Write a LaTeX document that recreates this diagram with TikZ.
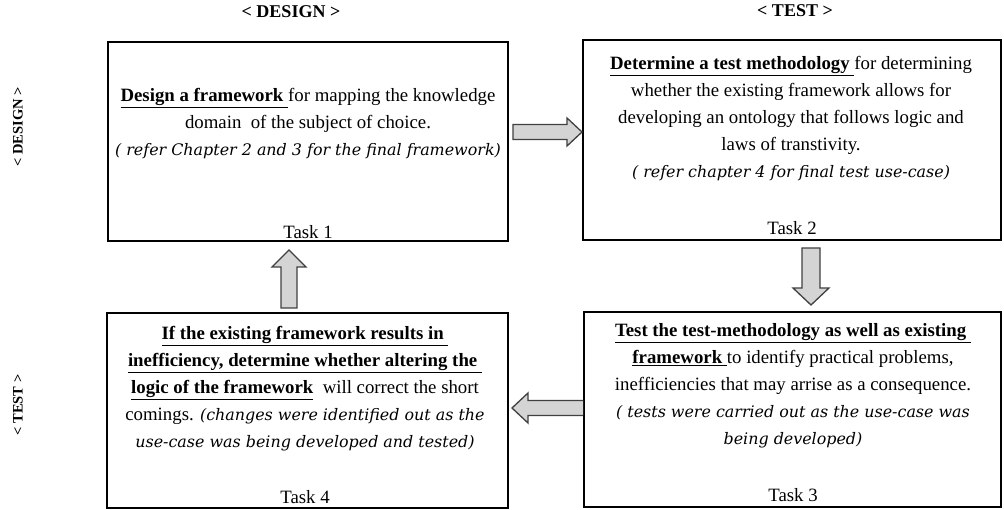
\documentclass[tikz,border=0pt]{standalone}
\usepackage{fontspec}
\setmainfont{Liberation Serif}
\newfontfamily\itfam{DejaVu Serif}
\newcommand\bu[1]{\underline{\textbf{#1}}}
\newcommand\itx[1]{{\itfam\itshape\fontsize{15.9}{27}\selectfont #1}}
\begin{document}
\begin{tikzpicture}[x=1pt,y=-1pt,
  box/.style={draw, line width=2pt, inner sep=0pt},
  txt/.style={align=center, font=\fontsize{18.8}{27}\selectfont, inner sep=0pt},
  tasklbl/.style={font=\fontsize{18.8}{22}\selectfont, inner sep=0pt},
  hdr/.style={font=\fontsize{18}{20}\selectfont\bfseries, inner sep=0pt},
  vhdr/.style={font=\fontsize{14.5}{17}\selectfont\bfseries, inner sep=0pt},
  barrow/.style={draw=black!75, fill=black!17, line width=1.3pt, line join=miter}]
\useasboundingbox (0,0) rectangle (1004,510);

% headers
\node[hdr] (hd) at (291,12) {< DESIGN >};
\node[hdr] (ht) at (795,11) {< TEST >};
\node[vhdr, rotate=90] (vd) at (18,127) {< DESIGN >};
\node[vhdr, rotate=90] (vt) at (18,405) {< TEST >};

% boxes
\node[box, minimum width=400pt, minimum height=199pt] (b1) at (308,141.5) {};
\node[box, minimum width=418pt, minimum height=200pt] (b2) at (792,140) {};
\node[box, minimum width=417pt, minimum height=195pt] (b3) at (792.5,409.5) {};
\node[box, minimum width=401pt, minimum height=195pt] (b4) at (307.5,410.5) {};

% texts
\node[txt] (t1) at (308,123.5) {\bu{Design a framework }for mapping the knowledge\\
domain\ \ of the subject of choice.\\
\itx{( refer Chapter 2 and 3 for the final framework)}};
\node[tasklbl] (k1) at (308,232) {Task 1};

\node[txt] (t2) at (791,118.5) {\bu{Determine a test methodology }for determining\\
whether the existing framework allows for\\
developing an ontology that follows logic and\\
laws of transtivity.\\
\itx{( refer chapter 4 for final test use-case)}};
\node[tasklbl] (k2) at (792,228) {Task 2};

\node[txt] (t3) at (793,386) {\bu{Test the test-methodology as well as existing }\\
\bu{framework }to identify practical problems,\\
inefficiencies that may arrise as a consequence.\\
\itx{( tests were carried out as the use-case was}\\
\itx{being developed)}};
\node[tasklbl] (k3) at (793,495) {Task 3};

\node[txt] (t4) at (305,388.5) {\bu{If the existing framework results in }\\
\bu{inefficiency, determine whether altering the }\\
\bu{logic of the framework}\ \ will correct the short\\
comings. \itx{(changes were identified out as the}\\
\itx{use-case was being developed and tested)}};
\node[tasklbl] (k4) at (305,497) {Task 4};

% block arrows
\draw[barrow] (513,124.5) -- (567,124.5) -- (567,118) -- (582,132) -- (567,146) -- (567,139.5) -- (513,139.5) -- cycle;
\draw[barrow] (802,248) -- (820,248) -- (820,288) -- (829,288) -- (811,305) -- (793,288) -- (802,288) -- cycle;
\draw[barrow] (281,308) -- (297,308) -- (297,267) -- (306,267) -- (289,250) -- (272,267) -- (281,267) -- cycle;
\draw[barrow] (583,400.5) -- (528,400.5) -- (528,393) -- (512,408) -- (528,423) -- (528,415.5) -- (583,415.5);
\end{tikzpicture}
\end{document}
